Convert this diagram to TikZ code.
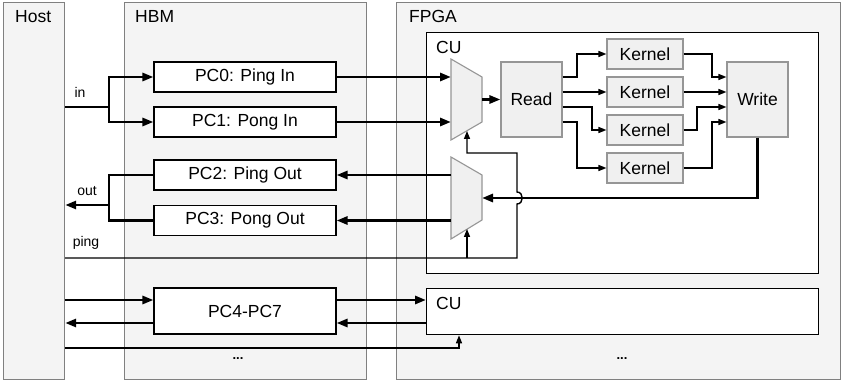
\documentclass[tikz,border=0pt]{standalone}
\usepackage{fontspec}
\setmainfont{Liberation Sans}
\usetikzlibrary{positioning,arrows.meta}
\definecolor{panelgray}{RGB}{244,244,244}
\definecolor{edgegray}{RGB}{128,128,128}
\definecolor{unitgray}{RGB}{240,240,240}
\definecolor{unitedge}{RGB}{150,150,150}

\begin{document}
\begin{tikzpicture}[x=1pt,y=-1pt,
  panel/.style={draw=edgegray, fill=panelgray, line width=1.2pt, anchor=north west, inner sep=0pt},
  cubox/.style={draw=black, fill=white, line width=1.3pt, anchor=north west, inner sep=0pt},
  pcbox/.style={draw=black, fill=white, line width=1.1pt, minimum width=182pt, minimum height=30pt, inner sep=0pt, font=\fontsize{17.5}{19}\selectfont},
  unit/.style={draw=unitedge, fill=unitgray, line width=1.1pt, inner sep=0pt, font=\fontsize{17.5}{19}\selectfont},
  mux/.style={draw=unitedge, fill=unitgray, line width=1.1pt, line join=miter},
  title/.style={anchor=north west, inner sep=0pt, font=\fontsize{17.5}{19}\selectfont},
  small/.style={anchor=base, inner sep=0pt, font=\fontsize{14}{16}\selectfont},
  bus/.style={line width=2.8pt, -{Triangle[length=11pt,width=8pt]}},
  wire/.style={line width=1.4pt, -{Triangle[length=8pt,width=6pt]}}
]
  \fill[white] (0,0) rectangle (841,382);
  \useasboundingbox (0,0) rectangle (841,382);

  % the three columns
  \node[panel, minimum width=61pt, minimum height=377pt] (host) at (3,2) {};
  \node[panel, minimum width=242pt, minimum height=377pt] (hbm) at (124,2) {};
  \node[panel, minimum width=444pt, minimum height=377pt] (fpga) at (396,2) {};
  \node[title] (hostlbl) at (15,10) {Host};
  \node[title] (hbmlbl) at (135,10) {HBM};
  \node[title] (fpgalbl) at (409,10) {FPGA};

  % compute units
  \node[cubox, minimum width=392pt, minimum height=241pt] (cu1) at (426,32) {};
  \node[cubox, minimum width=392pt, minimum height=46pt] (cu2) at (426,288) {};
  \node[title] (cu1lbl) at (436,41) {CU};
  \node[title] (cu2lbl) at (436,297) {CU};

  % memory channels
  \node[pcbox] (pc0) at (245,77) {PC0: Ping In};
  \node[pcbox] (pc1) at (245,122) {PC1: Pong In};
  \node[pcbox] (pc2) at (245,175) {PC2: Ping Out};
  \node[pcbox] (pc3) at (245,220.5) {PC3: Pong Out};
  \node[pcbox, minimum height=46pt] (pc4) at (245,311) {PC4-PC7};
  \node[font=\bfseries\fontsize{13}{15}\selectfont] (hbmdots) at (238,359) {...};
  \node[font=\bfseries\fontsize{13}{15}\selectfont] (fpgadots) at (622,359) {...};

  % pipeline
  \node[unit, minimum width=61pt, minimum height=75pt] (read) at (531.5,99.5) {Read};
  \node[unit, minimum width=61pt, minimum height=75pt] (write) at (757.5,99.5) {Write};
  \foreach \k/\y in {1/54,2/92,3/130,4/168}
    \node[unit, minimum width=76pt, minimum height=30pt] (k\k) at (645,\y) {Kernel};

  % multiplexers
  \draw[mux] (451,59) -- (482,77) -- (482,122) -- (451,140) -- cycle;
  \draw[mux] (451,157) -- (482,175) -- (482,220) -- (451,239) -- cycle;
  \coordinate (m1in0) at (451,77);
  \coordinate (m1in1) at (451,122);
  \coordinate (m1out) at (482,99.5);
  \coordinate (m1sel) at (467,131);
  \coordinate (m2out0) at (451,175);
  \coordinate (m2out1) at (451,220.5);
  \coordinate (m2in) at (482,198);
  \coordinate (m2sel) at (467,229);

  % host side
  \coordinate (inbr) at (109,107);
  \coordinate (outbr) at (109,205);
  \draw[bus] (host.east |- inbr) -- (inbr) |- (pc0.west);
  \draw[bus] (inbr) |- (pc1.west);
  \draw[bus] (pc2.west) -| (outbr) -- (host.east |- outbr);
  \draw[line width=2.8pt] (pc3.west) -| (outbr);
  \node[small] (inlbl) at (80,98) {in};
  \node[small] (outlbl) at (87,196) {out};
  \node[small] (pinglbl) at (86,247) {ping};

  % channels to the first CU
  \draw[bus] (pc0.east) -- (m1in0);
  \draw[bus] (pc1.east) -- (m1in1);
  \draw[bus] (m2out0) -- (pc2.east);
  \draw[bus] (m2out1) -- (pc3.east);
  \draw[bus] (m1out) -- (read.west);

  % read -> kernels -> write
  \foreach \k/\ya/\xb in {1/77/577, 2/92/590, 3/107/592, 4/122/577}
    \draw[wire] (read.east |- 0,\ya) -- (\xb,\ya) |- (k\k.west);
  \foreach \k/\yb/\xb in {1/77/712, 2/92/700, 3/107/697, 4/122/712}
    \draw[wire] (k\k.east) -| (\xb,\yb) -- (write.west |- 0,\yb);

  % ping select line
  \coordinate (pingturn) at (517,258);
  \draw[wire] (host.east |- pingturn) -- (pingturn) -- (517,204)
    .. controls (524,204) and (524,192) .. (517,192) -- (517,153) -| (m1sel);
  \draw[wire] (m2sel |- pingturn) -- (m2sel);
  \draw[bus] (write.south) |- (m2in);

  % second CU
  \draw[bus] (host.east |- 0,300) -- (pc4.west |- 0,300);
  \draw[bus] (pc4.west |- 0,323) -- (host.east |- 0,323);
  \draw[bus] (pc4.east |- 0,300) -- (cu2.west |- 0,300);
  \draw[bus] (cu2.west |- 0,323) -- (pc4.east |- 0,323);
  \draw[wire] (host.east |- 0,348) -| (cu2.south -| 459,0);
\end{tikzpicture}
\end{document}
